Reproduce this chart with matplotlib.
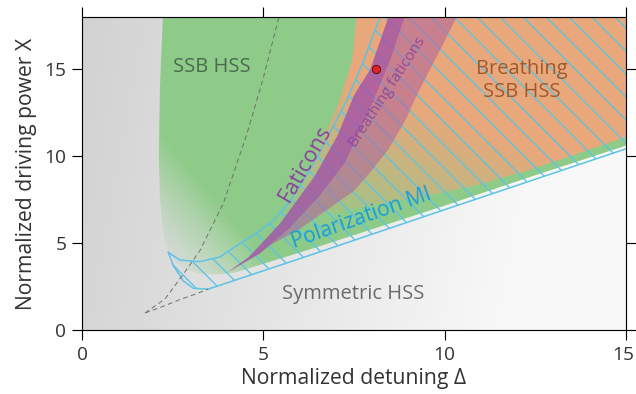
import numpy as np
import matplotlib
matplotlib.use('Agg')
import matplotlib.pyplot as plt
from matplotlib.patches import Polygon
from matplotlib.colors import to_rgb
from matplotlib.transforms import ScaledTranslation

plt.rcParams['font.family'] = ['Open Sans', 'DejaVu Sans']
plt.rcParams['hatch.linewidth'] = 0.7

# === boundaries (detuning, power) ===
# SSB HSS (green) region: left / bottom edge
ssb_x = [2.23, 2.15, 2.12, 2.15, 2.22, 2.3, 2.42, 2.62, 2.9, 3.3, 3.8, 4.2, 5.3, 6.5, 8.2, 10.0, 12.5, 15.0]
ssb_y = [18.0, 14.0, 10.0, 7.5, 6.0, 5.0, 4.35, 3.85, 3.45, 3.22, 3.2, 3.29, 4.0, 4.78, 5.93, 7.15, 8.9, 10.6]

# breathing SSB HSS (orange) region: left / bottom edge
orange_x = [7.57, 7.45, 7.1, 6.65, 6.2, 5.7, 5.6, 6.0, 7.4, 9.7, 11.0, 12.4, 15.0]
orange_y = [18.0, 15.5, 13.2, 11.0, 9.0, 7.5, 6.6, 6.35, 6.95, 7.8, 8.4, 9.25, 11.1]

# polarization MI (hatched) region
mi_upper_x = [2.38, 2.7, 3.25, 3.8, 4.3, 4.8, 5.3, 5.75, 6.1, 6.45, 6.85, 7.3, 7.75, 8.22]
mi_upper_y = [4.46, 4.02, 3.93, 4.2, 4.9, 5.55, 6.35, 7.45, 8.6, 9.8, 11.4, 13.2, 15.4, 18.0]
mi_lower_x = [2.38, 2.52, 2.79, 3.07, 3.48, 6.0, 9.9, 15.0]
mi_lower_y = [4.46, 3.69, 2.83, 2.40, 2.35, 4.1, 6.85, 10.42]

# faticons (dark purple) band
fat_left_x = [4.0, 4.6, 5.45, 6.4, 7.05, 7.5, 7.95, 8.2, 8.45]
fat_left_y = [3.3, 4.2, 6.1, 8.8, 11.2, 13.5, 15.0, 16.5, 18.0]
fat_right_x = [4.0, 4.9, 5.7, 6.55, 7.25, 7.75, 8.2, 8.5, 8.9]
fat_right_y = [3.3, 4.4, 5.8, 7.7, 9.6, 11.8, 14.0, 15.5, 18.0]

# breathing faticons (pink) band: right edge
bf_right_x = [5.3, 6.0, 6.75, 7.5, 8.0, 8.45, 8.9, 9.3, 9.85, 10.33]
bf_right_y = [5.0, 5.8, 6.9, 8.0, 9.2, 10.4, 12.0, 13.8, 16.0, 18.0]

# dashed lines from the cusp
cusp_up_x = [1.74, 2.29, 2.7, 3.25, 3.9, 4.55, 5.0, 5.43]
cusp_up_y = [0.98, 1.79, 2.94, 4.56, 7.3, 11.3, 14.5, 18.0]
cusp_low_x = [1.74, 2.2, 2.7, 3.12, 3.48]
cusp_low_y = [0.98, 1.33, 1.75, 2.06, 2.35]

dot_x, dot_y = 8.1, 15.0

xmax, ymax = 15, 18

fig = plt.figure(figsize=(636/138, 394/138), dpi=138)
ax = fig.add_axes([82/636, 1-330/394, 544/636, 313/394])

# grid for the colour gradients
gx, gy = np.meshgrid(np.linspace(0, xmax, 300), np.linspace(0, ymax, 360))

def gradient(ax, xs, ys, color, alpha, z):
    poly = Polygon(np.column_stack([xs, ys]), closed=True, fc='none', ec='none')
    ax.add_patch(poly)
    img = np.zeros(gx.shape + (4,))
    img[..., :3] = to_rgb(color)
    img[..., 3] = np.clip(alpha, 0, 1)
    im = ax.imshow(img, extent=(0, xmax, 0, ymax), origin='lower', aspect='auto',
                   interpolation='bilinear', zorder=z)
    im.set_clip_path(poly)

# gray background
g = np.clip(0.84 + 0.0115*gx - 0.001*gy, 0.8, 0.975)
bg = np.dstack([g, g, g])
ax.imshow(bg, extent=(0, xmax, 0, ymax), origin='lower', aspect='auto', zorder=0)

# SSB HSS
a_green = np.clip(0.05 + 0.12*(gy-3) + 0.3*(gx-2.3), 0, 1)**1.5
gradient(ax, ssb_x + [15], ssb_y + [18], '#8ecb89', a_green, 1)

# breathing SSB HSS
a_orange = 0.1 + 0.08*(gx-6) + 0.1*(gy-6.5)
gradient(ax, orange_x + [15], orange_y + [18], '#e9a87b', a_orange, 2)

# polarization MI hatch
blue = '#5cc3e4'
mi_poly = np.column_stack([mi_upper_x + [15] + mi_lower_x[::-1],
                           mi_upper_y + [18] + mi_lower_y[::-1]])
ax.add_patch(Polygon(mi_poly, closed=True, fc='none', ec=blue, lw=0, hatch='\\\\', zorder=3))

# faticons bands
pink_poly = np.column_stack([fat_right_x + bf_right_x[::-1], fat_right_y + bf_right_y[::-1]])
ax.add_patch(Polygon(pink_poly, closed=True, fc='#b0609f', ec='none', alpha=0.55, zorder=4))
fat_poly = np.column_stack([fat_left_x + fat_right_x[::-1], fat_left_y + fat_right_y[::-1]])
ax.add_patch(Polygon(fat_poly, closed=True, fc='#a452a8', ec='none', alpha=0.8, zorder=5))

# MI outline
ax.plot(mi_upper_x, mi_upper_y, color=blue, lw=0.8, zorder=6)
ax.plot(mi_lower_x, mi_lower_y, color=blue, lw=0.8, zorder=6)

# dashed
ax.plot(cusp_up_x, cusp_up_y, color='#6e6e6e', lw=0.5, ls=(0, (5, 3.5)), zorder=6)
ax.plot(cusp_low_x, cusp_low_y, color='#6e6e6e', lw=0.5, ls=(0, (5, 3.5)), zorder=6)

ax.plot(dot_x, dot_y, 'o', ms=4.3, mfc='#e8202a', mec='#5a1010', mew=0.5, zorder=7)

# region labels
ax.text(3.58, 15.1, 'SSB HSS', color='#4a6a4d', fontsize=10.5, ha='center', va='center', zorder=8)
ax.text(12.12, 14.37, 'Breathing\nSSB HSS', color='#a0592c', fontsize=10.5, ha='center', va='center',
        linespacing=1.2, zorder=8)
ax.text(7.47, 2.08, 'Symmetric HSS', color='#6a6a6a', fontsize=10.5, ha='center', va='center', zorder=8)
ax.text(6.15, 9.6, 'Faticons', color='#8e3f9f', fontsize=11.5, rotation=60, ha='center', va='center',
        rotation_mode='anchor', zorder=8)
ax.text(8.44, 13.7, 'Breathing faticons', color='#8b4b9c', fontsize=7.9, rotation=57, ha='center', va='center',
        rotation_mode='anchor', zorder=8)
ax.text(7.7, 6.4, 'Polarization MI', color='#1a9ed8', fontsize=11, rotation=19.5, ha='center', va='center',
        rotation_mode='anchor', zorder=8)

ax.set_xlim(0, xmax)
ax.set_ylim(0, ymax)
ax.set_xticks([0, 5, 10, 15])
ax.set_yticks([0, 5, 10, 15])
ax.tick_params(direction='out', length=5.2, width=0.6, top=True, right=True,
               labelsize=10, labelcolor='#333333', pad=3)
for s in ax.spines.values():
    s.set_linewidth(0.6)
    s.set_zorder(10)
ax.set_xlabel('Normalized detuning Δ', fontsize=11, color='#333333', labelpad=2)
ax.set_ylabel('Normalized driving power X', fontsize=11, color='#333333', labelpad=4)

# keep the last tick label inside the canvas
last = ax.get_xticklabels()[-1]
last.set_transform(last.get_transform() + ScaledTranslation(-3/138, 0, fig.dpi_scale_trans))

fig.savefig('out.png', dpi=138)
